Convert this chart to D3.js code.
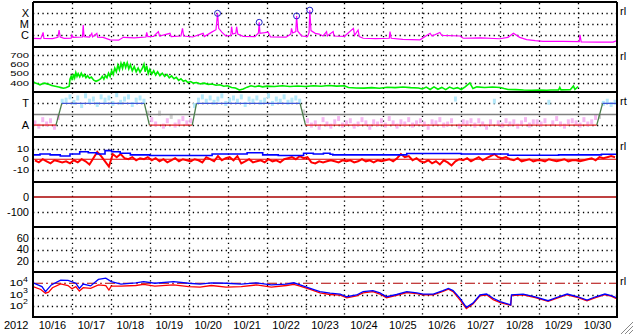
<!DOCTYPE html>
<html>
<head>
<meta charset="utf-8">
<script src="https://cdn.jsdelivr.net/npm/d3@7"></script>
<style>
  body { margin: 0; background: #fff; }
  svg { display: block; font-family: "Liberation Sans", Arial, sans-serif; }
</style>
</head>
<body>
<svg></svg>
<script>
const width = 633;
const height = 334;

// ---- data (t = days after 2012-10-16 00:00 UT) ----
const xray = [[0,4.9e-7],[0.2,4.6e-7],[0.26,1.7e-6],[0.28,4.9e-7],[0.5,4.6e-7],[0.64,6e-7],[0.67,2.8e-6],[0.7,6.5e-7],[0.8,4.9e-7],[0.98,5e-7],[1.0,1.0e-6],[1.03,6e-7],[1.27,6.5e-7],[1.29,8.1e-6],[1.31,7e-7],[1.45,6.2e-7],[1.51,1.4e-6],[1.53,6.5e-7],[1.64,1.4e-6],[1.66,6.2e-7],[1.8,6e-7],[1.98,3.5e-7],[2.2,3.3e-7],[2.32,6e-7],[2.6,5.5e-7],[2.9,6.5e-7],[2.92,1.7e-6],[2.95,7e-7],[3.1,7.5e-7],[3.22,2e-6],[3.25,8e-7],[3.52,1.4e-6],[3.55,7e-7],[3.8,8e-7],[3.84,4.0e-6],[3.87,8e-7],[4.1,6.5e-7],[4.37,1.4e-6],[4.4,7e-7],[4.59,1.8e-6],[4.7,3e-6],[4.74,9.3e-5],[4.77,4e-6],[4.85,1.8e-6],[4.95,8e-7],[5.08,9e-7],[5.1,5.6e-6],[5.13,1.2e-6],[5.21,1.5e-6],[5.23,5.6e-6],[5.26,1.2e-6],[5.4,7.5e-7],[5.7,7e-7],[5.79,1.5e-6],[5.81,1.4e-5],[5.83,1.4e-6],[5.95,1.6e-6],[6.04,1.8e-6],[6.1,6.5e-7],[6.5,6.2e-7],[6.62,1.2e-6],[6.64,4.0e-6],[6.67,1.5e-6],[6.75,2e-6],[6.77,5.4e-5],[6.8,2.2e-6],[6.9,8e-7],[7.05,7e-7],[7.09,1.6e-6],[7.11,1.8e-4],[7.14,2.5e-6],[7.25,1.4e-6],[7.35,1.2e-6],[7.45,8e-7],[7.54,2e-6],[7.56,8e-7],[7.71,2e-6],[7.73,8e-7],[8.0,7.5e-7],[8.23,4.0e-6],[8.26,9e-7],[8.35,2.8e-6],[8.38,7e-7],[8.48,5e-7],[8.8,4.6e-7],[9.15,5e-7],[9.17,2e-6],[9.2,5e-7],[9.5,4e-7],[9.94,3.6e-7],[10.2,1.4e-6],[10.25,8e-7],[10.45,1.7e-6],[10.5,9e-7],[10.97,8e-7],[11.05,5e-7],[11.5,5.5e-7],[11.99,4.5e-7],[12.2,6e-7],[12.34,1.4e-6],[12.5,6e-7],[12.68,3.8e-7],[12.9,3.0e-7],[13.1,2.6e-7],[13.6,2.6e-7],[14.03,2.5e-7],[14.05,1.0e-6],[14.08,2.3e-7],[14.5,2.2e-7],[14.9,2.2e-7],[15,3e-7]];
const flares = [[4.74,9.3e-5],[5.81,1.4e-5],[6.77,5.4e-5],[7.11,1.8e-4]];
const xrayTicks = [["X",1e-4],["M",1e-5],["C",1e-6]];

const speed = [[0.00,414],[0.06,400],[0.12,392],[0.18,380],[0.24,392],[0.30,398],[0.36,390],[0.42,384],[0.48,372],[0.54,368],[0.60,362],[0.66,356],[0.72,350],[0.78,344],[0.84,348],[0.90,358],[0.93,365],[0.95,440],[0.98,470],[1.01,430],[1.04,495],[1.07,455],[1.10,510],[1.13,470],[1.16,500],[1.20,465],[1.24,505],[1.28,470],[1.32,490],[1.36,455],[1.40,478],[1.45,450],[1.50,462],[1.56,430],[1.62,418],[1.68,428],[1.74,445],[1.78,470],[1.82,440],[1.86,480],[1.90,455],[1.94,505],[1.98,470],[2.02,530],[2.06,490],[2.10,560],[2.14,520],[2.18,590],[2.22,540],[2.26,610],[2.30,555],[2.34,625],[2.38,565],[2.42,615],[2.46,550],[2.50,595],[2.55,530],[2.60,575],[2.65,520],[2.70,560],[2.75,515],[2.80,550],[2.85,600],[2.88,520],[2.92,585],[2.96,500],[3.00,545],[3.05,495],[3.10,530],[3.15,485],[3.20,520],[3.26,478],[3.32,505],[3.38,470],[3.44,492],[3.50,455],[3.56,475],[3.62,445],[3.68,460],[3.74,428],[3.80,445],[3.86,418],[3.92,428],[3.98,405],[4.05,415],[4.12,398],[4.20,405],[4.30,390],[4.40,398],[4.50,385],[4.60,388],[4.70,375],[4.80,380],[4.90,365],[5.00,370],[5.10,352],[5.20,345],[5.30,325],[5.40,335],[5.50,355],[5.60,370],[5.70,360],[5.80,368],[5.90,358],[6.00,366],[6.20,362],[6.40,370],[6.60,362],[6.80,368],[7.00,362],[7.20,370],[7.40,364],[7.60,372],[7.80,366],[8.00,370],[8.10,352],[8.30,346],[8.50,344],[8.70,350],[8.90,343],[9.10,354],[9.30,350],[9.50,356],[9.70,350],[9.90,346],[10.00,335],[10.10,355],[10.20,330],[10.30,358],[10.40,332],[10.50,352],[10.60,328],[10.70,356],[10.80,338],[10.90,350],[11.00,330],[11.10,358],[11.22,400],[11.30,340],[11.40,358],[11.60,352],[11.80,356],[12.00,352],[12.10,340],[12.20,330],[12.40,328],[12.60,324],[12.80,322],[13.00,324],[13.20,322],[13.30,324],[13.50,326],[13.53,352],[13.56,326],[13.80,328],[13.88,368],[13.92,330],[14.00,362]];
const speedTicks = [700, 600, 500, 400];

const sector = [[0,-1],[0.59,-1],[0.74,1],[2.86,1],[2.99,-1],[4.09,-1],[4.20,1],[6.86,1],[7.0,-1],[14.48,-1],[14.63,1],[15,1]];
// IMF angle samples, every 0.1 day from t = 0.05
const phi = [-0.8,-1.1,-0.5,-0.9,-0.6,-1.2,-0.3,1.2,
  1.3,1.6,1.1,1.5,0.8,1.7,1.2,1.4,0.9,1.6,1.3,1.5,1.0,1.8,1.1,1.4,1.6,0.9,1.3,1.5,
  1.2,0.1,
  -0.5,-0.9,0.1,-1.1,-0.6,-0.2,-1.0,-0.7,-0.4,-0.8,-0.6,
  0.8,1.3,1.6,1.2,1.5,1.1,1.4,1.7,1.0,1.3,1.5,1.2,1.6,0.9,1.4,1.2,1.5,1.1,1.3,1.7,1.0,1.4,1.2,1.6,1.1,1.3,1.5,
  1.2,0.2,
  -0.6,-1.0,-0.8,-1.2,-0.5,-0.9,-1.1,-0.7,-0.4,-1.0,
  -0.8,-0.6,-1.1,-0.9,-0.5,-0.8,-1.2,-0.7,-0.9,-0.6,
  -1.0,-0.4,-0.8,-1.1,-0.7,-0.9,-0.5,-1.0,-0.8,-0.6,
  -0.9,-1.2,-0.7,-0.8,-0.5,-1.0,-0.9,-0.6,1.4,-1.1,
  -0.7,-0.8,-0.6,-1.0,-0.6,-0.9,-1.2,-0.7,1.2,-0.8,
  -1.0,-0.6,-0.9,-0.7,-1.1,-0.8,-0.5,-1.0,-0.7,-0.7,
  -0.9,-0.6,1.1,-0.8,-0.4,-0.9,-1.1,-0.7,-0.6,-0.8,
  -1.0,-0.5,-0.9,-0.7,-0.3,
  -0.2,1.0,1.2,0.9,1.1];

const bt = [[0,4.2],[0.18,5.1],[0.44,4.2],[0.7,3.2],[0.95,5.1],[1.2,7.3],[1.42,6.3],[1.64,5.1],[1.85,8.3],[2.02,7.3],[2.24,5.8],[2.5,4.2],[3.0,3.6],[4.0,3.6],[4.6,5.1],[5.5,6.3],[5.9,4.2],[6.3,3.6],[6.8,3.6],[6.95,5.8],[7.2,5.1],[7.46,5.8],[7.63,4.8],[7.7,4.2],[8.2,4.2],[9.5,4.2],[9.6,5.5],[10.8,5.5],[11.0,5.1],[12.1,5.1],[12.2,3.9],[13.4,3.9],[13.5,4.2],[14.5,4.2],[14.6,4.8],[15,4.8]];
// Bz samples, every 0.1 day from t = 0.05
const bz = [-1,-3,0,-2,-4,-1,-2,-3,-2,-4,
  -1,-3,0,-2,-5,1,7,3,-2,-7,
  5,2,5,1,0,2,-1,1,0,2,
  -1,1,-2,0,-3,-1,1,-2,0,-1,
  -2,0,-1,-3,2,0,-2,3,-1,1,
  2,-1,3,-4,-2,0,-3,-2,-1,-3,
  0,-2,-1,-3,0,1,2,0,3,1,
  2,-3,-4,-2,-3,-2,-1,-2,-3,-1,
  -2,-1,-3,-2,0,-2,-1,-3,-1,-2,
  -1,0,-2,1,5,2,3,-1,1,-2,
  -3,-1,-4,-2,-5,-1,-3,-6,-2,0,
  -1,1,-2,0,2,-1,1,3,5,2,
  1,2,0,-1,1,-2,-1,0,-2,-1,
  -1,-2,0,-1,-2,-1,0,-2,-1,-1,
  -2,-1,0,1,-1,2,1,2,3,2];
const magTicks = [["10",10],["0",0],["-10",-10]];

const dstTicks = [["0",0],["-100",-100]];
const kpTicks = [60, 40, 20];

const fluxHigh = [[0.0,1.1e4],[0.23,5.0e3],[0.32,1.8e3],[0.47,7.1e3],[0.71,1.9e4],[0.9,1.8e4],[1.1,1.0e4],[1.19,3.5e3],[1.29,8.5e3],[1.48,5.8e3],[1.68,2.2e4],[1.87,2.8e4],[2.01,1.4e4],[2.26,8.5e3],[2.64,1.1e4],[2.84,1.4e4],[3.13,1.0e4],[3.61,1.4e4],[4.0,1.0e4],[4.29,8.5e3],[4.58,1.1e4],[4.96,1.0e4],[5.35,8.5e3],[5.74,1.1e4],[6.12,7.1e3],[6.51,8.5e3],[6.7,1.1e4],[6.86,7.1e3],[7.12,3.5e3],[7.37,1.8e3],[7.63,1.3e3],[7.89,1.1e3],[8.06,630],[8.31,910],[8.48,1.8e3],[8.73,2.2e3],[8.91,1.4e3],[9.08,630],[9.34,1.0e3],[9.6,1.8e3],[9.86,1.4e3],[10.02,1.1e3],[10.28,1.1e3],[10.53,2.2e3],[10.67,3.5e3],[10.79,2.2e3],[10.97,460],[11.13,72],[11.3,170],[11.48,910],[11.65,1.1e3],[11.82,460],[12.0,230],[12.27,120],[12.29,910],[12.59,1.1e3],[12.9,630],[13.23,280],[13.5,630],[13.72,1.1e3],[14.0,630],[14.23,320],[14.45,630],[14.69,1.1e3],[14.85,790],[15.0,490]];
const fluxLow = [[0.0,5.0e3],[0.2,2.8e3],[0.32,1.3e3],[0.4,1.6e3],[0.5,4.0e3],[0.71,8.9e3],[0.9,6.3e3],[1.0,3.2e3],[1.1,5.0e3],[1.19,2.0e3],[1.29,4.0e3],[1.48,3.5e3],[1.68,7.1e3],[1.87,6.3e3],[1.95,2.5e3],[2.01,5.6e3],[2.26,5.6e3],[2.64,6.3e3],[2.84,7.9e3],[3.13,5.6e3],[3.61,7.1e3],[4.0,5.0e3],[4.29,4.5e3],[4.58,6.3e3],[4.96,4.5e3],[5.35,5.0e3],[5.74,7.1e3],[6.12,4.5e3],[6.51,6.3e3],[6.7,7.9e3],[6.86,5.6e3],[7.12,2.8e3],[7.37,1.4e3],[7.63,1.0e3],[7.89,890],[8.06,500],[8.31,760],[8.48,1.4e3],[8.73,1.8e3],[8.91,1.1e3],[9.08,520],[9.34,830],[9.6,1.5e3],[9.86,1.2e3],[10.02,950],[10.28,950],[10.53,1.9e3],[10.67,3.0e3],[10.79,1.8e3],[10.97,320],[11.13,56],[11.3,140],[11.48,760],[11.65,950],[11.82,350],[12.0,190],[12.27,110],[12.29,790],[12.59,950],[12.9,520],[13.23,250],[13.5,520],[13.72,950],[14.0,520],[14.23,280],[14.45,520],[14.69,950],[14.85,710],[15.0,400]];
const fluxTicks = [4, 3, 2];

// ---- layout ----
const left = 33, right = 617;
const base = Date.UTC(2012, 9, 16);
const day = t => new Date(base + t * 864e5);
const x = d3.scaleUtc().domain([day(0), day(15)]).range([left, right]);

const panels = [[2, 47], [47, 92], [92, 137], [137, 182], [182, 227], [227, 272], [272, 317]];
const yX = d3.scaleLog().domain([Math.pow(10, -7.1), 1e-3]).range([47, 2]);
const ySpd = d3.scaleLinear().domain([303, 785]).range([92, 47]);
const yPhi = d3.scaleLinear().domain([-2.1, 2.05]).range([137, 92]);
const yMag = d3.scaleLinear().domain([-22, 21.5]).range([182, 137]);
const yDst = d3.scaleLinear().domain([-196, 98]).range([227, 182]);
const yKp = d3.scaleLinear().domain([0, 80]).range([272, 227]);
const yFl = d3.scaleLog().domain([10, 1e5]).range([317, 272]);

const svg = d3.select('svg').attr('width', width).attr('height', height);

const defs = svg.append('defs');
panels.forEach((p, i) => {
  defs.append('clipPath').attr('id', 'clip' + i)
    .append('rect').attr('x', left).attr('y', p[0]).attr('width', right - left).attr('height', p[1] - p[0]);
});

const grid = svg.append('g');
const hDot = (y) => grid.append('line')
  .attr('x1', left).attr('x2', right)
  .attr('y1', Math.round(y) + 0.5).attr('y2', Math.round(y) + 0.5)
  .attr('stroke', '#000').attr('stroke-width', 1.3).attr('stroke-dasharray', '1.3,3.4');

// vertical day lines
x.ticks(d3.utcDay.every(1)).slice(1, -1).forEach(d => {
  grid.append('line')
    .attr('x1', Math.round(x(d)) + 0.5).attr('x2', Math.round(x(d)) + 0.5)
    .attr('y1', 3).attr('y2', 317)
    .attr('stroke', '#000').attr('stroke-width', 1.3).attr('stroke-dasharray', '1.3,3.4');
});

const labels = svg.append('g').attr('font-size', 11).attr('fill', '#000');
const leftLabel = (txt, y) => labels.append('text')
  .attr('x', 29).attr('y', y).attr('dy', '0.36em').attr('text-anchor', 'end').text(txt);
// tighter stacks: short, wide glyphs
const squatLabel = (txt, y, size, sx) => labels.append('text')
  .attr('transform', `translate(29,${y}) scale(${sx},1)`)
  .attr('dy', '0.36em').attr('text-anchor', 'end').attr('font-size', size).text(txt);

// panel 1: x-ray
xrayTicks.forEach(d => { hDot(yX(d[1])); leftLabel(d[0], yX(d[1])); });
svg.append('path').datum(xray)
  .attr('clip-path', 'url(#clip0)')
  .attr('fill', 'none').attr('stroke', '#ff00ff').attr('stroke-width', 1.2)
  .attr('d', d3.line().x(d => x(day(d[0]))).y(d => yX(d[1])));
svg.selectAll('circle.flare').data(flares).enter().append('circle')
  .attr('class', 'flare')
  .attr('cx', d => x(day(d[0]))).attr('cy', d => yX(d[1])).attr('r', 3)
  .attr('fill', 'none').attr('stroke', '#2020c8').attr('stroke-width', 1);

// panel 2: speed
speedTicks.forEach(v => { hDot(ySpd(v)); squatLabel(String(v), ySpd(v), 8, 1.4); });
svg.append('path').datum(speed)
  .attr('clip-path', 'url(#clip1)')
  .attr('fill', 'none').attr('stroke', '#00ee00').attr('stroke-width', 1.6)
  .attr('d', d3.line().x(d => x(day(d[0]))).y(d => ySpd(d[1])));

// panel 3: sector
hDot(yPhi(1)); hDot(yPhi(-1));
leftLabel('T', yPhi(1)); leftLabel('A', yPhi(-1));
svg.append('g').attr('clip-path', 'url(#clip2)')
  .selectAll('rect').data(phi).enter().append('rect')
  .attr('x', (d, i) => x(day(0.05 + i * 0.1)) - 1.5)
  .attr('y', d => yPhi(d) - 2.5)
  .attr('width', 3).attr('height', 5)
  .attr('fill', d => d > 0.25 ? '#b4e8fa' : d < -0.25 ? '#f6b8f2' : '#cfcfcf');
svg.append('line')
  .attr('x1', left).attr('x2', right)
  .attr('y1', Math.round(yPhi(0)) + 0.5).attr('y2', Math.round(yPhi(0)) + 0.5)
  .attr('stroke', '#808080').attr('stroke-width', 1.5);
d3.pairs(sector).forEach(([a, b]) => {
  svg.append('line')
    .attr('x1', x(day(a[0]))).attr('x2', x(day(b[0])))
    .attr('y1', yPhi(a[1])).attr('y2', yPhi(b[1]))
    .attr('stroke', a[1] !== b[1] ? '#4a7d4a' : a[1] > 0 ? '#3f56d8' : '#e42424')
    .attr('stroke-width', 1.3);
});

// panel 4: magnetic field
magTicks.forEach(d => { if (d[1] !== 0) hDot(yMag(d[1])); squatLabel(d[0], yMag(d[1]), 8.8, 1.25); });
svg.append('line')
  .attr('x1', left).attr('x2', right)
  .attr('y1', yMag(0)).attr('y2', yMag(0))
  .attr('stroke', '#e00000').attr('stroke-width', 1.2);
svg.append('path').datum(bz)
  .attr('clip-path', 'url(#clip3)')
  .attr('fill', 'none').attr('stroke', '#ff0000').attr('stroke-width', 2)
  .attr('d', d3.line().x((d, i) => x(day(0.05 + i * 0.1))).y(d => yMag(d)));
svg.append('path').datum(bt)
  .attr('clip-path', 'url(#clip3)')
  .attr('fill', 'none').attr('stroke', '#0000ff').attr('stroke-width', 1.6)
  .attr('d', d3.line().curve(d3.curveStepAfter).x(d => x(day(d[0]))).y(d => yMag(d[1])));

// panel 5: dst
dstTicks.forEach(d => { if (d[1] !== 0) hDot(yDst(d[1])); leftLabel(d[0], yDst(d[1])); });
svg.append('line')
  .attr('x1', left).attr('x2', right)
  .attr('y1', yDst(0)).attr('y2', yDst(0))
  .attr('stroke', '#a80000').attr('stroke-width', 1.5);

// panel 6: empty
kpTicks.forEach(v => { hDot(yKp(v)); leftLabel(String(v), yKp(v)); });

// panel 7: particle flux
fluxTicks.forEach(e => {
  const y = yFl(Math.pow(10, e));
  if (e !== 4) hDot(y);
  const t = labels.append('text')
    .attr('transform', `translate(28,${y}) scale(1.35,1)`)
    .attr('dy', '0.36em').attr('text-anchor', 'end').attr('font-size', 9);
  t.append('tspan').text('10');
  t.append('tspan').attr('font-size', 6.5).attr('dy', '-0.7em').text(String(e));
});
svg.append('line')
  .attr('x1', left).attr('x2', right)
  .attr('y1', yFl(1e4)).attr('y2', yFl(1e4))
  .attr('stroke', '#b00000').attr('stroke-width', 1.2).attr('stroke-dasharray', '10,3,2,3');
const flLine = d3.line().x(d => x(day(d[0]))).y(d => yFl(d[1]));
svg.append('path').datum(fluxLow)
  .attr('clip-path', 'url(#clip6)')
  .attr('fill', 'none').attr('stroke', '#ff0000').attr('stroke-width', 1.3).attr('d', flLine);
svg.append('path').datum(fluxHigh)
  .attr('clip-path', 'url(#clip6)')
  .attr('fill', 'none').attr('stroke', '#0000ff').attr('stroke-width', 1.3).attr('d', flLine);

// frames
const frame = svg.append('g').attr('stroke', '#000').attr('stroke-width', 2);
panels.forEach(p => {
  frame.append('line').attr('x1', left).attr('x2', right).attr('y1', p[0]).attr('y2', p[0]);
});
frame.append('line').attr('x1', left).attr('x2', right).attr('y1', 317).attr('y2', 317);
frame.append('line').attr('x1', left).attr('x2', left).attr('y1', 2).attr('y2', 318);
frame.append('line').attr('x1', right).attr('x2', right).attr('y1', 2).attr('y2', 318);

// right side tags
[[0, 'rl'], [1, 'rl'], [2, 'rt'], [3, 'rl'], [6, 'rl']].forEach(([i, s]) => {
  labels.append('text').attr('x', 620).attr('y', panels[i][0] + 9).attr('dy', '0.36em').text(s);
});

// date labels
labels.append('text').attr('x', 4).attr('y', 329).text('2012');
d3.range(15).forEach(i => {
  labels.append('text')
    .attr('x', x(day(i + 0.5))).attr('y', 329).attr('text-anchor', 'middle')
    .text(d3.utcFormat('%m/%d')(day(i)));
});

// resize grip
[4, 8, 12].forEach(k => {
  svg.append('line')
    .attr('x1', 633 - k).attr('y1', 334).attr('x2', 633).attr('y2', 334 - k)
    .attr('stroke', '#888').attr('stroke-width', 1);
});
</script>
</body>
</html>
